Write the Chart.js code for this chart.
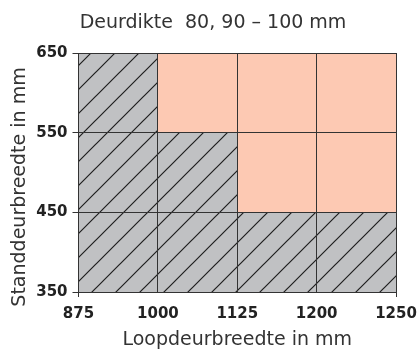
<!DOCTYPE html>
<html>
<head>
<meta charset="utf-8">
<script src="https://cdn.jsdelivr.net/npm/chart.js@4.4.1/dist/chart.umd.min.js"></script>
<style>
  html, body { margin: 0; padding: 0; background: #fff; }
  #wrap { width: 420px; height: 351px; }
</style>
</head>
<body>
<div id="wrap"><canvas id="sizes" width="420" height="351"></canvas></div>
<script>
// door width columns (loopdeur) and height rows (standdeur), in mm
const widthTicks = [875, 1000, 1125, 1200, 1250];
const heightTicks = [350, 450, 550, 650];
// per column: lowest standdeur width that is still possible
const blockedUpTo = [650, 550, 450, 450, 450];
const maxHeight = [650, 650, 650, 650, 650];

const FONT = "'DejaVu Sans', sans-serif";
const INK = '#333333';
const LINE = '#333333';

// grey with thin diagonal hatching
function hatch() {
  const size = 24;
  const c = document.createElement('canvas');
  c.width = size;
  c.height = size;
  const g = c.getContext('2d');
  g.fillStyle = '#c0c1c3';
  g.fillRect(0, 0, size, size);
  g.strokeStyle = '#1e1e1e';
  g.lineWidth = 1.2;
  g.beginPath();
  g.moveTo(-2, size + 2);
  g.lineTo(size + 2, -2);
  g.moveTo(-2, 2);
  g.lineTo(2, -2);
  g.moveTo(size - 2, size + 2);
  g.lineTo(size + 2, size - 2);
  g.stroke();
  return g.createPattern(c, 'repeat');
}

// rotated y-axis caption, sits a bit below the middle of the axis
const yCaption = {
  id: 'yCaption',
  afterDraw(chart) {
    const c = chart.ctx;
    c.save();
    c.translate(20, 187);
    c.rotate(-Math.PI / 2);
    c.font = '19px ' + FONT;
    c.fillStyle = INK;
    c.textAlign = 'center';
    c.textBaseline = 'middle';
    c.fillText('Standdeurbreedte in mm', 0, 0);
    c.restore();
  },
};

const ctx = document.getElementById('sizes').getContext('2d');

// filler paints the last dataset first, so the grey area ends up over the salmon one
new Chart(ctx, {
  type: 'line',
  data: {
    datasets: [
      {
        label: 'niet mogelijk',
        data: blockedUpTo.map((y, i) => ({ x: i, y: y })),
        stepped: 'before',
        backgroundColor: hatch(),
        borderColor: 'rgba(0,0,0,0)',
        borderWidth: 0,
        pointRadius: 0,
        fill: 'start',
      },
      {
        label: 'mogelijk',
        data: maxHeight.map((y, i) => ({ x: i, y: y })),
        backgroundColor: '#fdc9b3',
        borderColor: 'rgba(0,0,0,0)',
        borderWidth: 0,
        pointRadius: 0,
        fill: 'start',
      },
    ],
  },
  plugins: [yCaption],
  options: {
    responsive: false,
    animation: false,
    layout: { padding: { left: 6, right: 0, top: 4, bottom: 0 } },
    plugins: {
      legend: { display: false },
      tooltip: { enabled: false },
      // fills go down first so the grid lies on top of them
      filler: { drawTime: 'beforeDraw' },
      title: {
        display: true,
        text: 'Deurdikte  80, 90 \u2013 100 mm',
        color: INK,
        font: { family: FONT, size: 19, weight: 'normal' },
        padding: { top: 8, bottom: 18.2 },
      },
    },
    scales: {
      x: {
        type: 'linear',
        min: 0,
        max: widthTicks.length - 1,
        afterFit: (axis) => {
          axis.height = 59;
          axis.paddingRight = 24;
        },
        ticks: {
          stepSize: 1,
          color: '#222',
          padding: 8,
          font: { family: FONT, size: 15, weight: 'bold' },
          callback: (v) => widthTicks[v],
        },
        grid: {
          color: LINE,
          lineWidth: 1,
          tickLength: 5,
          tickColor: (c) => (c.index === 0 || c.index === widthTicks.length - 1 ? LINE : 'rgba(0,0,0,0)'),
        },
        border: { color: LINE, width: 1 },
        title: {
          display: true,
          text: 'Loopdeurbreedte in mm',
          color: INK,
          font: { family: FONT, size: 19, weight: 'normal' },
          padding: { top: 4, bottom: 0 },
        },
      },
      y: {
        min: heightTicks[0],
        max: heightTicks[heightTicks.length - 1],
        afterFit: (axis) => { axis.width = 72.5; },
        afterBuildTicks: (axis) => {
          axis.ticks = heightTicks.map((v) => ({ value: v }));
        },
        ticks: {
          color: '#222',
          padding: 5,
          font: { family: FONT, size: 15, weight: 'bold' },
        },
        grid: { color: LINE, lineWidth: 1, tickLength: 6, tickColor: LINE },
        border: { color: LINE, width: 1 },
      },
    },
  },
});
</script>
</body>
</html>
